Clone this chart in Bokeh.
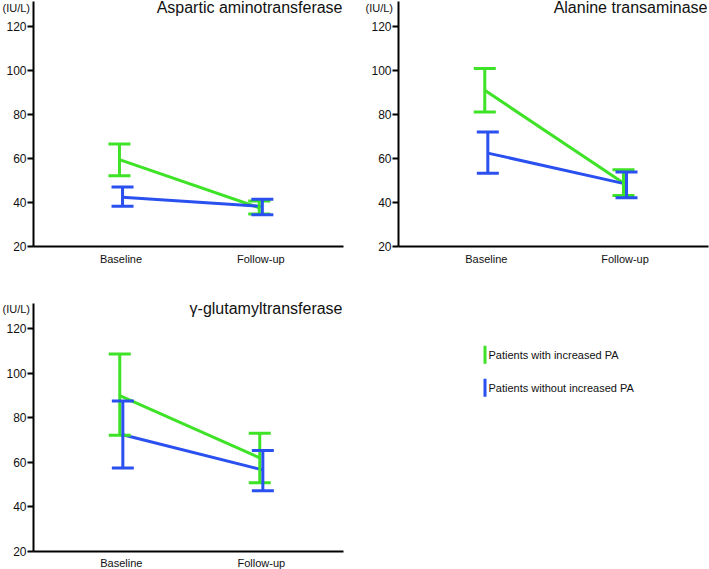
from bokeh.plotting import figure
from bokeh.models import Range1d, FixedTicker, Whisker, TeeHead, ColumnDataSource, Label
from bokeh.layouts import column, row
from bokeh.embed import file_html
from bokeh.resources import INLINE
from bokeh.core.properties import value

# ---------------- data ----------------
categories = ["Baseline", "Follow-up"]
series = ["Patients with increased PA", "Patients without increased PA"]
titles = ["Aspartic aminotransferase", "Alanine transaminase", "γ-glutamyltransferase"]
unit_label = "(IU/L)"
y_ticks = [20, 40, 60, 80, 100, 120]

# Aspartic aminotransferase
ast_inc_mean = [59.4, 37.6]
ast_inc_upper = [66.5, 40.6]
ast_inc_lower = [52.1, 34.7]
ast_no_mean = [42.4, 38.2]
ast_no_upper = [47.0, 41.5]
ast_no_lower = [38.3, 34.4]

# Alanine transaminase
alt_inc_mean = [90.9, 48.8]
alt_inc_upper = [100.8, 54.8]
alt_inc_lower = [81.0, 43.2]
alt_no_mean = [62.4, 48.3]
alt_no_upper = [72.0, 53.8]
alt_no_lower = [53.3, 42.1]

# gamma-glutamyltransferase
ggt_inc_mean = [89.9, 61.9]
ggt_inc_upper = [108.5, 73.0]
ggt_inc_lower = [72.1, 50.7]
ggt_no_mean = [72.3, 56.5]
ggt_no_upper = [87.5, 65.2]
ggt_no_lower = [57.4, 47.1]

# ---------------- style / layout ----------------
FONT = "Liberation Sans"
COLORS = ["#3ee226", "#2a50ef"]
DODGE = [-0.011, 0.011]
TEXT_COLOR = "#111111"
Y_BASE = 20


def make_panel(title, groups, W, H, axis_x, axis_end, axis_top, cat_px, y20, y120,
               unit_x, text_y, title_right):
    sx = (cat_px[1] - cat_px[0])
    sy = (y20 - y120) / 100.0

    def x_at(px):
        return 1 + (px - cat_px[0]) / sx

    def y_at(py):
        return Y_BASE + (y20 - py) / sy

    p = figure(width=W, height=H,
               x_range=Range1d(x_at(0), x_at(W)), y_range=Range1d(y_at(H), y_at(0)),
               output_backend="svg", toolbar_location=None,
               min_border_left=0, min_border_right=0,
               min_border_top=0, min_border_bottom=0)
    p.outline_line_color = None
    p.grid.visible = False
    p.background_fill_color = "white"
    p.border_fill_color = "white"

    # x axis
    xa = p.xaxis[0]
    xa.fixed_location = Y_BASE
    xa.bounds = (x_at(axis_x), x_at(axis_end))
    xa.ticker = FixedTicker(ticks=[1, 2])
    xa.major_label_overrides = {1: categories[0], 2: categories[1]}
    xa.major_tick_out = 0
    xa.major_tick_in = 0
    xa.minor_tick_line_color = None
    xa.axis_line_width = 2
    xa.axis_line_color = "black"
    xa.major_label_standoff = 6
    xa.major_label_text_font = FONT
    xa.major_label_text_font_size = "11px"
    xa.major_label_text_color = TEXT_COLOR

    # y axis
    ya = p.yaxis[0]
    ya.fixed_location = x_at(axis_x)
    ya.bounds = (Y_BASE, y_at(axis_top))
    ya.ticker = FixedTicker(ticks=y_ticks)
    ya.major_tick_out = 6
    ya.major_tick_in = 0
    ya.major_tick_line_width = 2
    ya.minor_tick_line_color = None
    ya.axis_line_width = 2
    ya.axis_line_color = "black"
    ya.major_label_standoff = 1
    ya.major_label_text_font = FONT
    ya.major_label_text_font_size = "12px"
    ya.major_label_text_color = TEXT_COLOR

    for gi, (mean, upper, lower) in enumerate(groups):
        xs = [i + 1 + DODGE[gi] for i in range(len(categories))]
        src = ColumnDataSource(dict(x=xs, mean=mean))
        p.line("x", "mean", source=src, line_color=COLORS[gi], line_width=3)

    for gi, (mean, upper, lower) in enumerate(groups):
        xs = [i + 1 + DODGE[gi] for i in range(len(categories))]
        src = ColumnDataSource(dict(x=xs, upper=upper, lower=lower))
        w = Whisker(base="x", upper="upper", lower="lower", source=src,
                    line_color=COLORS[gi], line_width=3, level="annotation",
                    upper_head=TeeHead(size=22, line_color=COLORS[gi], line_width=3),
                    lower_head=TeeHead(size=22, line_color=COLORS[gi], line_width=3))
        p.add_layout(w)

    p.add_layout(Label(x=unit_x, y=H - text_y, x_units="screen", y_units="screen",
                       text=unit_label, text_align="left", text_baseline="middle",
                       text_font=FONT, text_font_size="11px", text_color=TEXT_COLOR))
    p.add_layout(Label(x=title_right, y=H - text_y, x_units="screen", y_units="screen",
                       text=title, text_align="right", text_baseline="middle",
                       text_font=FONT, text_font_size="16px", text_color=TEXT_COLOR))
    return p


f1 = make_panel(titles[0],
                [(ast_inc_mean, ast_inc_upper, ast_inc_lower),
                 (ast_no_mean, ast_no_upper, ast_no_lower)],
                W=355, H=270, axis_x=33, axis_end=343, axis_top=1,
                cat_px=(120.5, 260.3), y20=246, y120=25.7,
                unit_x=2, text_y=7, title_right=342)
f2 = make_panel(titles[1],
                [(alt_inc_mean, alt_inc_upper, alt_inc_lower),
                 (alt_no_mean, alt_no_upper, alt_no_lower)],
                W=354, H=270, axis_x=43, axis_end=353, axis_top=1,
                cat_px=(130.8, 269.5), y20=246, y120=25.7,
                unit_x=10, text_y=7, title_right=352)
f3 = make_panel(titles[2],
                [(ggt_inc_mean, ggt_inc_upper, ggt_inc_lower),
                 (ggt_no_mean, ggt_no_upper, ggt_no_lower)],
                W=355, H=299, axis_x=33, axis_end=343, axis_top=33,
                cat_px=(120.8, 260.8), y20=280.7, y120=58,
                unit_x=2, text_y=38, title_right=342)

# legend panel
LEG_W, LEG_H = 354, 299
f4 = figure(width=LEG_W, height=LEG_H, x_range=Range1d(0, LEG_W), y_range=Range1d(LEG_H, 0),
            output_backend="svg", toolbar_location=None,
            min_border_left=0, min_border_right=0, min_border_top=0, min_border_bottom=0)
f4.axis.visible = False
f4.grid.visible = False
f4.outline_line_color = None
leg_x = 129.5
leg_y0 = [75.3, 108.3]
leg_h = 18
f4.segment(x0=[leg_x] * 2, x1=[leg_x] * 2, y0=leg_y0, y1=[y + leg_h for y in leg_y0],
           line_color=COLORS, line_width=3)
f4.text(x=[leg_x + 3.5] * 2, y=[y + leg_h / 2 for y in leg_y0], text=series,
        text_font=value(FONT), text_font_size="11px", text_color=TEXT_COLOR,
        text_baseline="middle", text_align="left")

layout = column(row(f1, f2), row(f3, f4))

with open("out.html", "w") as fh:
    fh.write(file_html(layout, INLINE))
